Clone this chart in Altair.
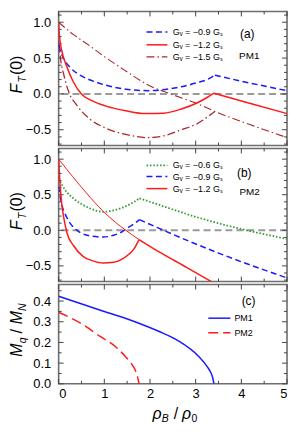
import altair as alt
import pandas as pd

# ---------------- axes / ticks ----------------
X_DOMAIN = [0, 5]
X_MAJOR = [0, 1, 2, 3, 4, 5]
X_MINOR = [0.5, 1.5, 2.5, 3.5, 4.5]
FT_DOMAIN = [-0.72, 1.15]
FT_LABELS = [-0.5, 0.0, 0.5, 1.0]
FT_MINOR = [-0.7, -0.6, -0.4, -0.3, -0.2, -0.1, 0.1, 0.2, 0.3, 0.4, 0.6, 0.7, 0.8, 0.9, 1.1]
M_DOMAIN = [0, 0.48]
M_LABELS = [0.0, 0.1, 0.2, 0.3, 0.4]
M_MINOR = [0.05, 0.15, 0.25, 0.35, 0.45]

# ---------------- text ----------------
LEGEND_A = ["Gᵥ = −0.9 Gₛ", "Gᵥ = −1.2 Gₛ", "Gᵥ = −1.5 Gₛ"]
LEGEND_B = ["Gᵥ = −0.6 Gₛ", "Gᵥ = −0.9 Gₛ", "Gᵥ = −1.2 Gₛ"]
LEGEND_C = ["PM1", "PM2"]
PANEL_TAGS = ["(a)", "(b)", "(c)"]
MODEL_TAGS = ["PM1", "PM2"]

# ---------------- panel (a): PM1, F_T(0) ----------------
A_BLUE_PRE_X = [0.0, 0.05, 0.12, 0.25, 0.5, 0.75, 1.04, 1.47, 1.97, 2.47, 2.69, 3.05, 3.25, 3.42]
A_BLUE_PRE_Y = [0.68, 0.58, 0.48, 0.37, 0.25, 0.18, 0.12, 0.065, 0.045, 0.075, 0.10, 0.16, 0.20, 0.26]
A_BLUE_POST_X = [3.42, 4.2, 5.0]
A_BLUE_POST_Y = [0.26, 0.15, 0.045]

A_RED_PRE_X = [0.0, 0.015, 0.07, 0.18, 0.32, 0.5, 0.75, 1.04, 1.47, 1.9, 2.3, 2.69, 3.05, 3.25, 3.4]
A_RED_PRE_Y = [1.0, 0.83, 0.6, 0.38, 0.17, 0.0, -0.1, -0.17, -0.235, -0.275, -0.27, -0.21, -0.12, -0.05, 0.01]
A_RED_POST_X = [3.4, 4.2, 5.0]
A_RED_POST_Y = [0.01, -0.135, -0.275]

A_BROWN_UP_X = [0.0, 0.32, 0.68, 1.0, 1.47, 1.97, 2.45, 3.05, 3.42, 4.2, 5.0]
A_BROWN_UP_Y = [1.0, 0.83, 0.67, 0.52, 0.32, 0.12, 0.0, -0.14, -0.245, -0.43, -0.61]
A_BROWN_LOW_X = [0.0, 0.04, 0.12, 0.22, 0.4, 0.68, 1.04, 1.47, 1.97, 2.3, 2.69, 3.05, 3.26, 3.42]
A_BROWN_LOW_Y = [0.75, 0.5, 0.25, 0.03, -0.16, -0.35, -0.48, -0.565, -0.61, -0.585, -0.5, -0.41, -0.32, -0.245]

# ---------------- panel (b): PM2, F_T(0) ----------------
B_GREEN_PRE_X = [0.0, 0.14, 0.32, 0.5, 0.68, 0.97, 1.2, 1.4, 1.6, 1.77]
B_GREEN_PRE_Y = [0.73, 0.57, 0.45, 0.37, 0.31, 0.26, 0.28, 0.32, 0.38, 0.45]
B_GREEN_POST_X = [1.77, 2.19, 3.05, 4.12, 5.0]
B_GREEN_POST_Y = [0.45, 0.36, 0.18, 0.0, -0.12]

B_BLUE_PRE_X = [0.0, 0.05, 0.18, 0.3, 0.47, 0.7, 0.97, 1.2, 1.33, 1.5, 1.65, 1.77]
B_BLUE_PRE_Y = [0.62, 0.42, 0.18, 0.06, -0.03, -0.08, -0.095, -0.07, -0.04, 0.03, 0.09, 0.15]
B_BLUE_POST_X = [1.77, 2.19, 3.5, 5.0]
B_BLUE_POST_Y = [0.15, 0.03, -0.32, -0.67]

B_RED_UP_X = [0.0, 0.3, 0.6, 0.97, 1.25, 1.47, 1.76]
B_RED_UP_Y = [1.0, 0.76, 0.53, 0.27, 0.11, 0.0, -0.13]
B_RED_POST_X = [1.76, 2.19, 2.8, 3.45]
B_RED_POST_Y = [-0.13, -0.30, -0.52, -0.76]
B_RED_LOW_X = [0.0, 0.03, 0.07, 0.12, 0.18, 0.32, 0.54, 0.75, 0.97, 1.2, 1.4, 1.55, 1.65, 1.76]
B_RED_LOW_Y = [1.0, 0.65, 0.36, 0.15, -0.03, -0.21, -0.37, -0.43, -0.46, -0.45, -0.40, -0.33, -0.26, -0.13]

# ---------------- panel (c): M_q / M_N ----------------
C_PM1_X = [0.0, 0.9, 1.61, 2.19, 2.62, 3.05, 3.26, 3.33, 3.37, 3.4]
C_PM1_Y = [0.423, 0.357, 0.305, 0.254, 0.208, 0.136, 0.081, 0.055, 0.032, 0.0]
C_PM2_X = [0.0, 0.54, 0.9, 1.26, 1.47, 1.61, 1.69, 1.74, 1.76]
C_PM2_Y = [0.346, 0.285, 0.23, 0.177, 0.13, 0.092, 0.06, 0.022, 0.0]

# ---------------- styles ----------------
BLUE = "#1a1aff"
RED = "#ff1a1a"
BROWN = "#a8282c"
GREEN = "#3a9a3a"
GRAY = "#9a9a9a"
TICK = "#444444"
FONT = "Liberation Sans"
DASH_BLUE = [6, 3.5]
DASH_BROWN = [8, 3, 1.5, 3]
DASH_GREEN = [1.6, 1.8]
DASH_RED_C = [10, 5]

W = 230
H_A, H_B, H_C = 135, 134, 100
TITLE_XB = -36.5
LEG_FS = 9

ONE = pd.DataFrame({"a": [0]})


def sc(dom):
    return alt.Scale(domain=dom, nice=False, zero=False)


def line(xs, ys, xsc, ysc, xax, yax, color, width, dash=None):
    df = pd.DataFrame({"x": xs, "y": ys, "i": list(range(len(xs)))})
    kw = dict(color=color, strokeWidth=width, interpolate="monotone", clip=True)
    if dash:
        kw["strokeDash"] = dash
    return alt.Chart(df).mark_line(**kw).encode(
        x=alt.X("x:Q", scale=xsc, axis=xax),
        y=alt.Y("y:Q", scale=ysc, axis=yax),
        order="i:Q",
    )


def txt(s, x, y, size, style="normal", angle=0, align="left", baseline="alphabetic", color="black"):
    kw = dict(text=s, fontSize=size, fontStyle=style, align=align, baseline=baseline,
              font=FONT, color=color)
    if angle:
        kw["angle"] = angle
    return alt.Chart(ONE).mark_text(**kw).encode(x=alt.value(x), y=alt.value(y))


def sample(x1, x2, y, color, width, dash=None):
    kw = dict(color=color, strokeWidth=width)
    if dash:
        kw["strokeDash"] = dash
    return alt.Chart(ONE).mark_rule(**kw).encode(x=alt.value(x1), x2=alt.value(x2), y=alt.value(y))


def ticks(xsc, ysc, xax, yax, ymajor, yminor, h):
    layers = []
    for vals, ln in ((ymajor, 5), (yminor, 3)):
        df = pd.DataFrame({"v": vals})
        layers.append(alt.Chart(df).mark_rule(color=TICK, strokeWidth=1).encode(
            y=alt.Y("v:Q", scale=ysc, axis=yax), x=alt.value(0), x2=alt.value(ln)))
        layers.append(alt.Chart(df).mark_rule(color=TICK, strokeWidth=1).encode(
            y=alt.Y("v:Q", scale=ysc, axis=yax), x=alt.value(W - ln), x2=alt.value(W)))
    for vals, ln in ((X_MAJOR, 5), (X_MINOR, 3)):
        df = pd.DataFrame({"v": vals})
        layers.append(alt.Chart(df).mark_rule(color=TICK, strokeWidth=1).encode(
            x=alt.X("v:Q", scale=xsc, axis=xax), y=alt.value(0), y2=alt.value(ln)))
        layers.append(alt.Chart(df).mark_rule(color=TICK, strokeWidth=1).encode(
            x=alt.X("v:Q", scale=xsc, axis=xax), y=alt.value(h - ln), y2=alt.value(h)))
    return layers


def zero_rule(ysc, yax):
    return alt.Chart(pd.DataFrame({"y": [0.0]})).mark_rule(
        color=GRAY, strokeDash=[7, 4], strokeWidth=2).encode(y=alt.Y("y:Q", scale=ysc, axis=yax))


def ft_title(start):
    xb = TITLE_XB
    return [
        txt("F", xb, start, 16, "italic", angle=270),
        txt("T", xb + 3.5, start - 11, 10.5, "italic", angle=270),
        txt("(0)", xb, start - 18.5, 16, "normal", angle=270),
    ]


def ft_axis():
    return alt.Axis(values=FT_LABELS, format=".1f", ticks=False, tickSize=0, domain=False,
                    grid=False, labelPadding=8, labelFontSize=13, title=None,
                    labelColor="black", labelFont=FONT)


LX1, LX2, LXT = 88.5, 109.5, 115

# ---------------- panel (a) ----------------
xs_a, ys_a = sc(X_DOMAIN), sc(FT_DOMAIN)
yax_a = ft_axis()
rows_a = [20.8, 33.6, 45.8]
layers_a = [zero_rule(ys_a, yax_a)]
layers_a += ticks(xs_a, ys_a, None, yax_a, FT_LABELS, FT_MINOR, H_A)
layers_a += [
    line(A_BROWN_UP_X, A_BROWN_UP_Y, xs_a, ys_a, None, yax_a, BROWN, 1.1, DASH_BROWN),
    line(A_BROWN_LOW_X, A_BROWN_LOW_Y, xs_a, ys_a, None, yax_a, BROWN, 1.3, DASH_BROWN),
    line(A_BLUE_PRE_X, A_BLUE_PRE_Y, xs_a, ys_a, None, yax_a, BLUE, 1.5, DASH_BLUE),
    line(A_BLUE_POST_X, A_BLUE_POST_Y, xs_a, ys_a, None, yax_a, BLUE, 1.5, DASH_BLUE),
    line(A_RED_PRE_X, A_RED_PRE_Y, xs_a, ys_a, None, yax_a, RED, 1.5),
    line(A_RED_POST_X, A_RED_POST_Y, xs_a, ys_a, None, yax_a, RED, 1.5),
    sample(LX1, LX2, rows_a[0], BLUE, 1.5, DASH_BLUE),
    sample(LX1, LX2, rows_a[1], RED, 1.5),
    sample(LX1, LX2, rows_a[2], BROWN, 1.3, DASH_BROWN),
    txt(LEGEND_A[0], LXT, rows_a[0], LEG_FS, baseline="middle"),
    txt(LEGEND_A[1], LXT, rows_a[1], LEG_FS, baseline="middle"),
    txt(LEGEND_A[2], LXT, rows_a[2], LEG_FS, baseline="middle"),
    txt(PANEL_TAGS[0], 190, 23.2, 12, align="center", baseline="middle"),
    txt(MODEL_TAGS[0], 192, 44.4, 10, align="center", baseline="middle"),
]
layers_a += ft_title(82.6)
panel_a = alt.layer(*layers_a).properties(width=W, height=H_A)

# ---------------- panel (b) ----------------
xs_b, ys_b = sc(X_DOMAIN), sc(FT_DOMAIN)
yax_b = ft_axis()
rows_b = [17, 28.3, 40.4]
layers_b = [zero_rule(ys_b, yax_b)]
layers_b += ticks(xs_b, ys_b, None, yax_b, FT_LABELS, FT_MINOR, H_B)
layers_b += [
    line(B_GREEN_PRE_X, B_GREEN_PRE_Y, xs_b, ys_b, None, yax_b, GREEN, 1.8, DASH_GREEN),
    line(B_GREEN_POST_X, B_GREEN_POST_Y, xs_b, ys_b, None, yax_b, GREEN, 1.8, DASH_GREEN),
    line(B_BLUE_PRE_X, B_BLUE_PRE_Y, xs_b, ys_b, None, yax_b, BLUE, 1.5, DASH_BLUE),
    line(B_BLUE_POST_X, B_BLUE_POST_Y, xs_b, ys_b, None, yax_b, BLUE, 1.5, DASH_BLUE),
    line(B_RED_UP_X, B_RED_UP_Y, xs_b, ys_b, None, yax_b, RED, 1.0),
    line(B_RED_POST_X, B_RED_POST_Y, xs_b, ys_b, None, yax_b, RED, 1.5),
    line(B_RED_LOW_X, B_RED_LOW_Y, xs_b, ys_b, None, yax_b, RED, 1.5),
    sample(LX1, LX2, rows_b[0], GREEN, 1.8, DASH_GREEN),
    sample(LX1, LX2, rows_b[1], BLUE, 1.5, DASH_BLUE),
    sample(LX1, LX2, rows_b[2], RED, 1.5),
    txt(LEGEND_B[0], LXT, rows_b[0], LEG_FS, baseline="middle"),
    txt(LEGEND_B[1], LXT, rows_b[1], LEG_FS, baseline="middle"),
    txt(LEGEND_B[2], LXT, rows_b[2], LEG_FS, baseline="middle"),
    txt(PANEL_TAGS[1], 187, 24.7, 12, align="center", baseline="middle"),
    txt(MODEL_TAGS[1], 192.3, 43.9, 10, align="center", baseline="middle"),
]
layers_b += ft_title(82)
panel_b = alt.layer(*layers_b).properties(width=W, height=H_B)

# ---------------- panel (c) ----------------
xs_c, ys_c = sc(X_DOMAIN), sc(M_DOMAIN)
xax_c = alt.Axis(values=X_MAJOR, format="d", ticks=False, tickSize=0, domain=False, grid=False,
                 labelPadding=4, labelFontSize=13, title=None, labelColor="black", labelFont=FONT)
yax_c = alt.Axis(values=M_LABELS, format=".1f", ticks=False, tickSize=0, domain=False, grid=False,
                 labelPadding=8, labelFontSize=13, title=None, labelColor="black", labelFont=FONT)
layers_c = ticks(xs_c, ys_c, xax_c, yax_c, M_LABELS, M_MINOR, H_C)
layers_c += [
    line(C_PM1_X, C_PM1_Y, xs_c, ys_c, xax_c, yax_c, BLUE, 1.5),
    line(C_PM2_X, C_PM2_Y, xs_c, ys_c, xax_c, yax_c, RED, 1.5, DASH_RED_C),
    sample(150.7, 173, 33.9, BLUE, 1.5),
    sample(150.7, 173, 48.5, RED, 1.5, DASH_RED_C),
    txt(LEGEND_C[0], 177, 33.9, 9, baseline="middle"),
    txt(LEGEND_C[1], 177, 48.5, 9, baseline="middle"),
    txt(PANEL_TAGS[2], 191.3, 16.7, 12, align="center", baseline="middle"),
]
# y title  M_q / M_N
xb, s = TITLE_XB, 72.8
layers_c += [
    txt("M", xb, s, 16, "italic", angle=270),
    txt("q", xb + 3.5, s - 13.6, 10.5, "italic", angle=270),
    txt("/", xb, s - 23.5, 16, "normal", angle=270),
    txt("M", xb, s - 32.9, 16, "italic", angle=270),
    txt("N", xb + 3.5, s - 46.2, 10.5, "italic", angle=270),
]
# x title  rho_B / rho_0
yb = H_C + 35
layers_c += [
    txt("ρ", 94.6, yb, 16, "italic"),
    txt("B", 103.8, yb + 3.5, 10.5, "italic"),
    txt("/", 116, yb, 16, "normal"),
    txt("ρ", 124.3, yb, 16, "italic"),
    txt("0", 133.8, yb + 3.5, 10.5, "normal"),
]
panel_c = alt.layer(*layers_c).properties(width=W, height=H_C)

chart = alt.vconcat(panel_a, panel_b, panel_c, spacing=3, bounds="flush").properties(
    padding=0
).configure(font=FONT).configure_view(stroke="#6e6e6e", strokeWidth=1.6)

chart.save("out.html", embed_options={"renderer": "svg", "actions": False})
